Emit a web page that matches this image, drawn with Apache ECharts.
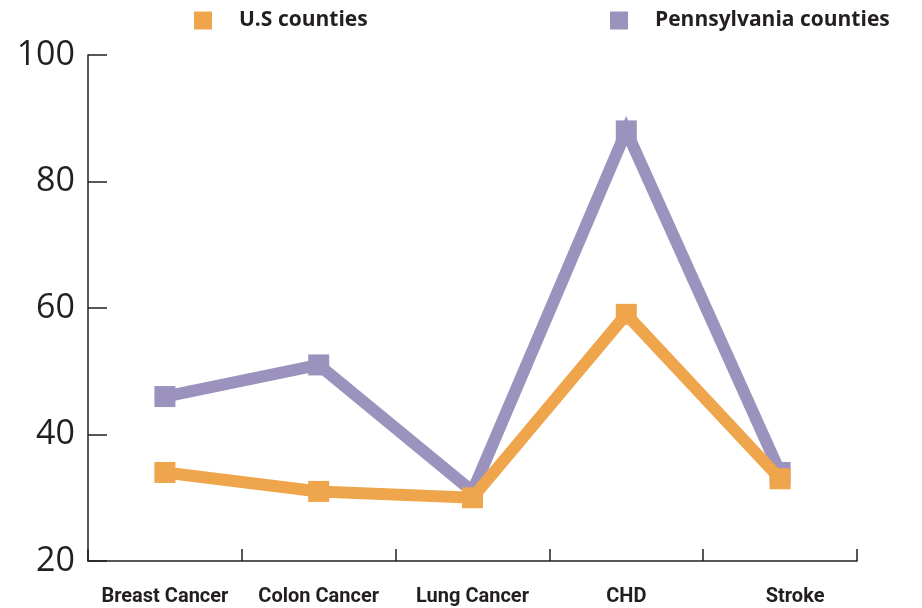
<!DOCTYPE html>
<html>
<head>
<meta charset="utf-8">
<script src="https://cdn.jsdelivr.net/npm/echarts@6/dist/echarts.min.js"></script>
<style>html,body{margin:0;padding:0;background:#fff}#c{width:922px;height:608px}</style>
</head>
<body>
<div id="c"></div>
<script>
const categories = ['Breast Cancer', 'Colon Cancer', 'Lung Cancer', 'CHD', 'Stroke'];
const usCounties = [34, 31, 30, 59, 33];
const paCounties = [46, 51, 31, 88, 34];
const seriesNames = ['U.S counties', 'Pennsylvania counties'];
const yTicks = [20, 40, 60, 80, 100];

const ORANGE = '#EFA54B';
const PURPLE = '#9B93BE';
const INK = '#231f20';

const chart = echarts.init(document.getElementById('c'), null, {renderer: 'canvas'});
const legendText = {fontFamily: 'Open Sans', fontWeight: 'bold', fontSize: 21, color: INK, padding: [0, 0, 0, 22]};
const catData = categories.map(c => c === 'Stroke'
  ? {value: c, textStyle: {padding: [0, 0, 0, 30]}}
  : c);
chart.setOption({
  animation: false,
  backgroundColor: '#fff',
  grid: {left: 88, right: 65, top: 55, bottom: 47, containLabel: false},
  legend: [
    {data: [seriesNames[0]], left: 194, top: 10, padding: 0, icon: 'rect', itemWidth: 18, itemHeight: 18, textStyle: legendText},
    {data: [seriesNames[1]], left: 610, top: 10, padding: 0, icon: 'rect', itemWidth: 18, itemHeight: 18, textStyle: legendText}
  ],
  xAxis: {
    type: 'category',
    data: catData,
    boundaryGap: true,
    axisLine: {show: true, lineStyle: {color: INK, width: 1.5}},
    axisTick: {show: true, inside: true, length: 12, interval: 0, lineStyle: {color: INK, width: 1.5}},
    axisLabel: {show: true, interval: 0, fontFamily: 'Roboto', fontWeight: 'bold', fontSize: 20, color: INK, margin: 26},
    splitLine: {show: false}
  },
  yAxis: {
    type: 'value',
    min: yTicks[0],
    max: yTicks[yTicks.length - 1],
    interval: yTicks[1] - yTicks[0],
    axisLine: {show: true, lineStyle: {color: INK, width: 1.5}},
    axisTick: {show: true, inside: true, length: 19, lineStyle: {color: INK, width: 1.5}},
    axisLabel: {fontFamily: 'Open Sans', fontWeight: 'normal', fontSize: 34, color: INK, margin: 13},
    splitLine: {show: false}
  },
  series: [
    {
      name: seriesNames[1], type: 'line', data: paCounties, z: 2,
      symbol: 'rect', symbolSize: 21, showAllSymbol: true,
      itemStyle: {color: PURPLE},
      lineStyle: {color: PURPLE, width: 12, join: 'miter'}
    },
    {
      name: seriesNames[0], type: 'line', data: usCounties, z: 3,
      symbol: 'rect', symbolSize: 21, showAllSymbol: true,
      itemStyle: {color: ORANGE},
      lineStyle: {color: ORANGE, width: 12, join: 'miter'}
    }
  ]
});
</script>
</body>
</html>
